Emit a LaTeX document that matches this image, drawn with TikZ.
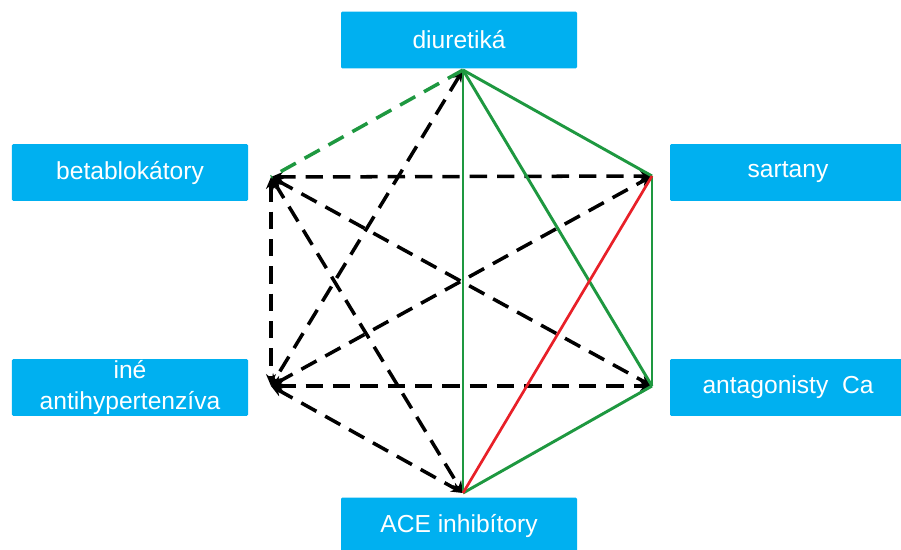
\documentclass[tikz,border=0pt]{standalone}
\usepackage{fontspec}
\setmainfont{Liberation Sans}
\usetikzlibrary{arrows.meta}
\definecolor{boxblue}{RGB}{0,176,240}
\definecolor{linkgreen}{RGB}{30,152,64}
\definecolor{linkred}{RGB}{232,32,40}
\tikzstyle{drug}=[fill=boxblue, text=white, rounded corners=1pt, minimum width=7.08cm, minimum height=1.7cm, inner sep=0pt, align=center, font=\fontsize{21}{26}\selectfont]
\tikzstyle{good}=[linkgreen, line width=2.5pt]
\tikzstyle{bad}=[linkred, line width=2.3pt]
\tikzstyle{gooddashed}=[linkgreen, line width=3pt, dash pattern=on 0.52cm off 0.3cm]
\tikzstyle{weak}=[black, line width=3pt, dash pattern=on 0.52cm off 0.3cm, {Stealth[length=0.36cm, width=0.3cm]}-{Stealth[length=0.36cm, width=0.3cm]}]

\begin{document}
\begin{tikzpicture}[x=0.03cm, y=-0.03cm]
	\clip (0,0) rectangle (901,549);

	% Classes of antihypertensive drugs
	\node[drug] (diu)   at (459, 40)   {diuretiká};
	\node[drug] (beta)  at (130,172.5) {betablokátory};
	\node[drug] (sart)  at (788,172.5) {sartany};
	\node[drug] (ine)   at (130,387.5) {iné\\antihypertenzíva};
	\node[drug] (antag) at (788,387.5) {antagonisty~ Ca};
	\node[drug] (ace)   at (459,526)   {ACE inhibítory};

	% Corners of the hexagon
	\coordinate (t)  at (463, 70);
	\coordinate (ul) at (271,177);
	\coordinate (ur) at (652,176);
	\coordinate (ll) at (271,386);
	\coordinate (lr) at (652,386);
	\coordinate (b)  at (463,493);

	% Possible combinations
	\foreach \p/\q in {t/ll, ul/ur, ul/ll, ul/lr, ul/b, ll/ur, ll/lr, ll/b}{
		\draw[weak] (\p) -- (\q);
	}
	\draw[gooddashed] (t) -- (ul);

	% Preferred combinations
	\foreach \p/\q in {t/b, t/ur, t/lr, ur/lr, lr/b}{
		\draw[good] (\p) -- (\q);
	}

	% Not recommended
	\draw[bad] (ur) -- (b);
\end{tikzpicture}
\end{document}
